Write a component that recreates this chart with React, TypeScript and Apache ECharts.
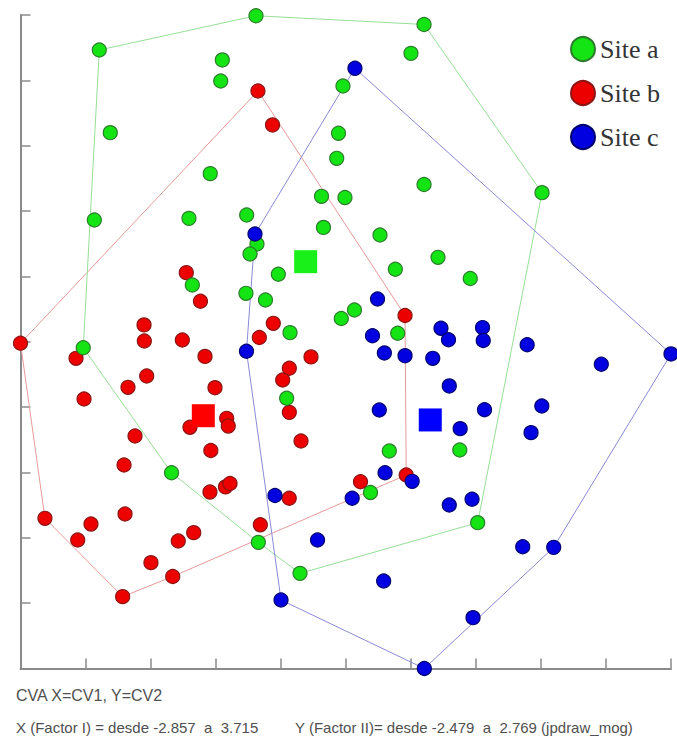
import React, { useEffect, useRef } from "react";
import * as echarts from "echarts";

// Axis extents (from the footer of the chart)
const xMin = -2.857;
const xMax = 3.715;
const yMin = -2.479;
const yMax = 2.769;
const tickDivisions = 10;

const seriesNames = ["Site a", "Site b", "Site c"];

// Site a (green) points: [CV1, CV2]
const siteA: [number, number][] = [
  [-0.478, 2.763], [1.22, 2.693], [-2.061, 2.488], [-0.818, 2.408], [1.088, 2.461],
  [-0.834, 2.239], [0.401, 2.199], [-1.95, 1.824], [0.356, 1.819], [0.338, 1.618],
  [-0.94, 1.495], [1.22, 1.408], [2.412, 1.342], [0.184, 1.313], [0.421, 1.303],
  [-2.111, 1.123], [-1.155, 1.136], [-0.572, 1.163], [0.204, 1.063], [0.775, 1.002],
  [-0.468, 0.93], [-0.538, 0.85], [1.361, 0.823], [-0.252, 0.687], [-1.121, 0.601],
  [-0.579, 0.534], [-0.382, 0.48], [0.93, 0.727], [1.687, 0.653], [0.517, 0.4],
  [0.384, 0.332], [-0.134, 0.218], [0.954, 0.213], [-2.223, 0.097], [-0.168, -0.309],
  [0.869, -0.732], [1.581, -0.724], [-1.331, -0.907], [-0.454, -1.466], [-0.033, -1.715],
  [0.679, -1.066], [1.762, -1.308],
];

// Site b (red) points
const siteB: [number, number][] = [
  [-0.458, 2.159], [-0.311, 1.886], [-1.182, 0.7], [-1.039, 0.47], [-1.609, 0.28],
  [-1.606, 0.151], [-1.222, 0.159], [-2.857, 0.133], [-2.296, 0.012], [-0.993, 0.027],
  [-0.303, 0.293], [-0.444, 0.179], [0.078, 0.023], [-0.141, -0.068], [-0.208, -0.162],
  [-1.582, -0.13], [-1.771, -0.221], [-0.892, -0.224], [-2.215, -0.315], [-0.141, -0.422],
  [1.028, 0.356], [-1.145, -0.542], [-0.774, -0.47], [-0.758, -0.532], [-1.7, -0.612],
  [-0.023, -0.652], [-0.934, -0.728], [-1.811, -0.845], [-0.943, -1.062], [-0.786, -1.021],
  [-0.74, -0.993], [-0.142, -1.112], [0.578, -0.979], [1.04, -0.925], [-2.61, -1.273],
  [-2.145, -1.319], [-1.801, -1.238], [-2.279, -1.447], [-1.263, -1.455], [-1.107, -1.388],
  [-0.434, -1.325], [-1.539, -1.629], [-1.319, -1.74], [-1.825, -1.902],
];

// Site c (blue) points
const siteC: [number, number][] = [
  [0.522, 2.341], [-0.488, 1.01], [-0.574, 0.069], [0.75, 0.488], [0.699, 0.193],
  [1.391, 0.253], [1.467, 0.161], [1.811, 0.259], [1.818, 0.155], [2.262, 0.121],
  [0.819, 0.055], [1.028, 0.033], [1.308, 0.012], [3.011, -0.036], [3.715, 0.047],
  [1.475, -0.21], [0.768, -0.403], [1.831, -0.401], [2.41, -0.371], [1.585, -0.553],
  [2.301, -0.585], [0.826, -0.907], [1.1, -0.976], [0.494, -1.112], [1.475, -1.166],
  [1.705, -1.12], [-0.286, -1.09], [0.144, -1.447], [2.217, -1.501], [2.53, -1.506],
  [0.812, -1.776], [-0.225, -1.929], [1.715, -2.071], [1.223, -2.479],
];

// Group centroids
const centroidA: [number, number] = [0.024, 0.788];
const centroidB: [number, number] = [-1.01, -0.449];
const centroidC: [number, number] = [1.283, -0.483];

const footerLine1 = "CVA X=CV1, Y=CV2";
const footerLine2a = "X (Factor I) = desde -2.857  a  3.715";
const footerLine2b = "Y (Factor II)= desde -2.479  a  2.769 (jpdraw_mog)";

function convexHull(pts: [number, number][]): [number, number][] {
  const p = pts.slice().sort((a, b) => (a[0] === b[0] ? a[1] - b[1] : a[0] - b[0]));
  const cross = (o: number[], a: number[], b: number[]) =>
    (a[0] - o[0]) * (b[1] - o[1]) - (a[1] - o[1]) * (b[0] - o[0]);
  const lower: [number, number][] = [];
  for (const q of p) {
    while (lower.length >= 2 && cross(lower[lower.length - 2], lower[lower.length - 1], q) <= 0) lower.pop();
    lower.push(q);
  }
  const upper: [number, number][] = [];
  for (let i = p.length - 1; i >= 0; i--) {
    const q = p[i];
    while (upper.length >= 2 && cross(upper[upper.length - 2], upper[upper.length - 1], q) <= 0) upper.pop();
    upper.push(q);
  }
  upper.pop();
  lower.pop();
  const hull = lower.concat(upper);
  hull.push(hull[0]);
  return hull;
}

const styles = {
  a: { fill: "#14e414", border: "#2b7d2b", hull: "#96e096", centroid: "#19f019" },
  b: { fill: "#ec0000", border: "#8c1414", hull: "#e89a9a", centroid: "#ff0000" },
  c: { fill: "#0000e0", border: "#000070", hull: "#8a8ad6", centroid: "#0000ff" },
};

export default function App() {
  const ref = useRef<HTMLDivElement>(null);
  useEffect(() => {
    if (!ref.current) return;
    const chart = echarts.init(ref.current, null, { renderer: "svg" });
    const axisCommon = {
      type: "value" as const,
      min: 0,
      max: tickDivisions,
      interval: 1,
      axisLabel: { show: false },
      splitLine: { show: false },
      axisLine: { show: true, onZero: false, lineStyle: { color: "#8a8a8a", width: 2 } },
      axisTick: { show: true, inside: true, length: 10, lineStyle: { color: "#8a8a8a", width: 1.5 } },
    };
    const hullSeries = (name: string, pts: [number, number][], color: string) => ({
      name,
      type: "line",
      xAxisIndex: 1,
      yAxisIndex: 1,
      data: convexHull(pts),
      symbol: "none",
      silent: true,
      z: 1,
      lineStyle: { color, width: 1 },
    });
    const pointSeries = (name: string, pts: [number, number][], s: any) => ({
      name,
      type: "scatter",
      xAxisIndex: 1,
      yAxisIndex: 1,
      data: pts,
      symbol: "circle",
      symbolSize: 14,
      z: 2,
      itemStyle: { color: s.fill, borderColor: s.border, borderWidth: 1.2, opacity: 1 },
    });
    const centroidSeries = (name: string, pt: [number, number], color: string) => ({
      name,
      type: "scatter",
      xAxisIndex: 1,
      yAxisIndex: 1,
      data: [pt],
      symbol: "rect",
      symbolSize: 23,
      z: 3,
      itemStyle: { color, opacity: 1 },
    });
    chart.setOption({
      animation: false,
      backgroundColor: "#ffffff",
      grid: { left: 20.5, right: 6, top: 15, bottom: 78.5, containLabel: false, outerBoundsMode: "none" },
      xAxis: [
        { ...axisCommon, position: "bottom" },
        { type: "value", min: xMin, max: xMax, show: false },
      ],
      yAxis: [
        { ...axisCommon, position: "left" },
        { type: "value", min: yMin, max: yMax, show: false },
      ],
      legend: {
        data: seriesNames,
        orient: "vertical",
        left: 565,
        top: 31,
        itemWidth: 24,
        itemHeight: 24,
        itemGap: 18,
        icon: "circle",
        selectedMode: false,
        textStyle: {
          fontFamily: '"Liberation Serif", "Times New Roman", serif',
          fontSize: 26,
          lineHeight: 26,
          color: "#333333",
        },
      },
      series: [
        hullSeries("hull b", siteB, styles.b.hull),
        hullSeries("hull a", siteA, styles.a.hull),
        hullSeries("hull c", siteC, styles.c.hull),
        pointSeries(seriesNames[1], siteB, styles.b),
        pointSeries(seriesNames[0], siteA, styles.a),
        pointSeries(seriesNames[2], siteC, styles.c),
        centroidSeries("centroid a", centroidA, styles.a.centroid),
        centroidSeries("centroid b", centroidB, styles.b.centroid),
        centroidSeries("centroid c", centroidC, styles.c.centroid),
      ],
      graphic: [
        {
          type: "text",
          x: 16,
          y: 695,
          style: {
            text: footerLine1,
            font: '16px "Liberation Sans", Arial, sans-serif',
            fill: "#505050",
            verticalAlign: "middle",
          },
        },
        {
          type: "text",
          x: 16,
          y: 727,
          style: {
            text: footerLine2a,
            font: '15px "Liberation Sans", Arial, sans-serif',
            fill: "#505050",
            verticalAlign: "middle",
          },
        },
        {
          type: "text",
          x: 295,
          y: 727,
          style: {
            text: footerLine2b,
            font: '15px "Liberation Sans", Arial, sans-serif',
            fill: "#505050",
            verticalAlign: "middle",
          },
        },
      ],
    });
    return () => chart.dispose();
  }, []);
  return (
    <div
      ref={ref}
      style={{ position: "absolute", left: 0, top: 0, width: 677, height: 747 }}
    />
  );
}
